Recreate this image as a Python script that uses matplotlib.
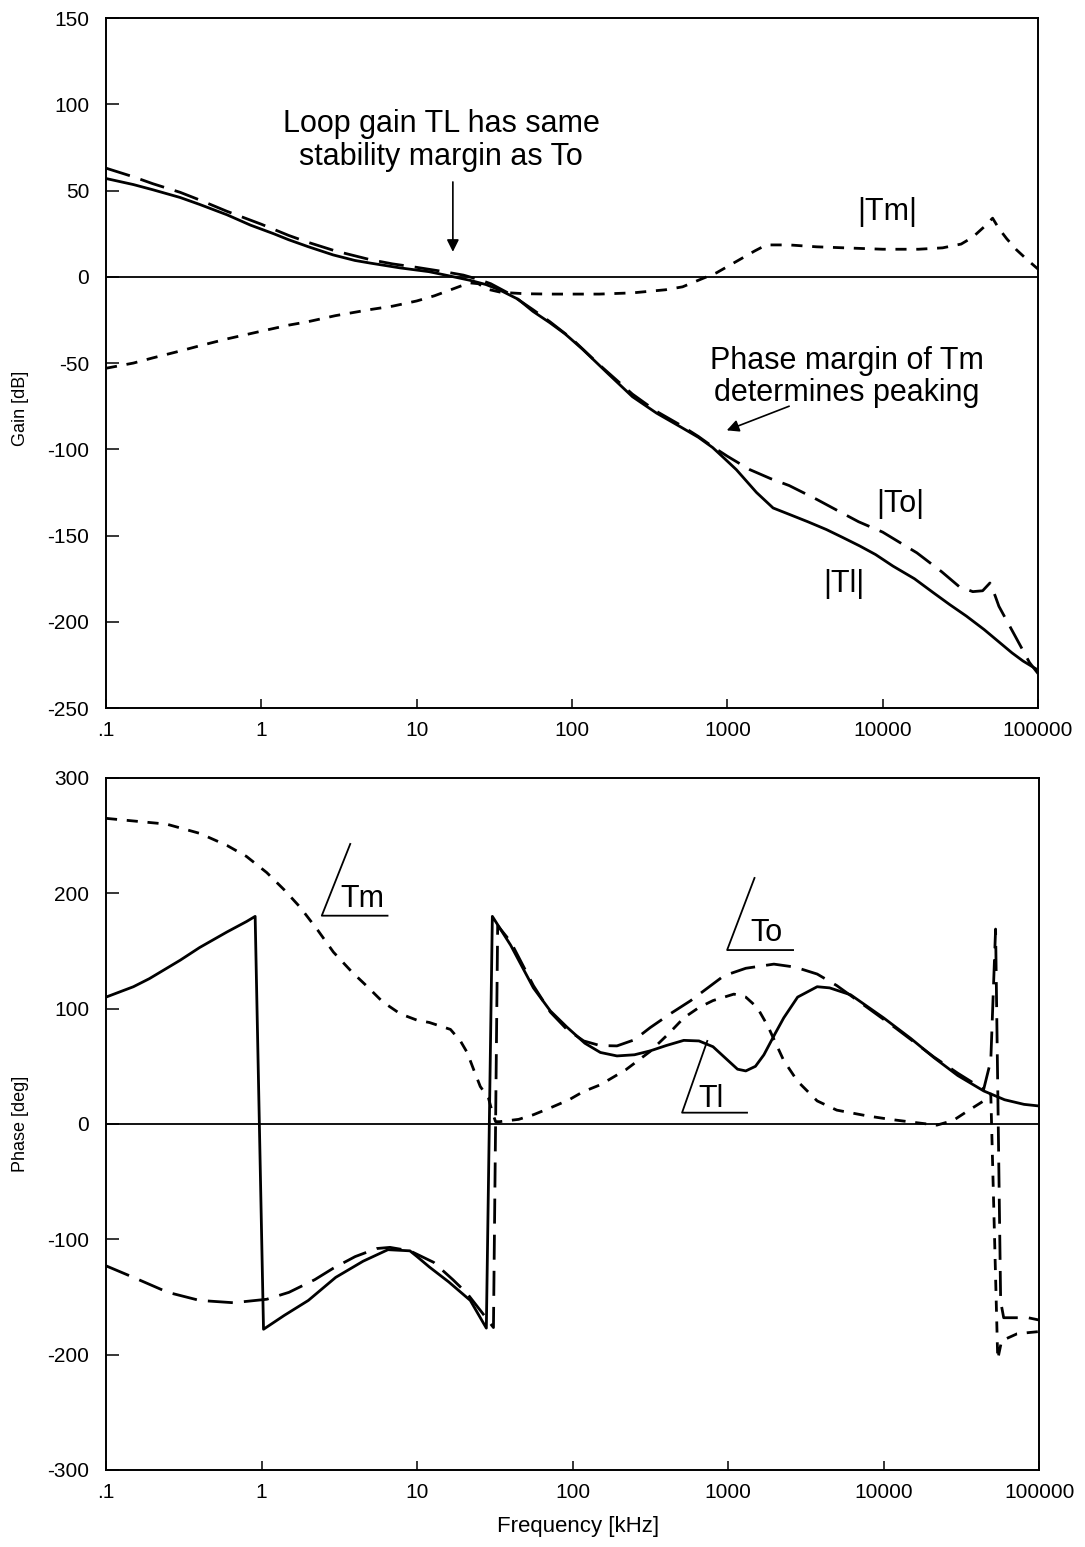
import numpy as np
import matplotlib
matplotlib.use("Agg")
from matplotlib import pyplot as plt

plt.rcParams['font.family'] = ['Liberation Sans', 'DejaVu Sans']
plt.rcParams['axes.unicode_minus'] = False

# ---- gain data (frequency in kHz, gain in dB) ----
f_tl_gain = [0.1, 0.15, 0.2, 0.3, 0.4, 0.6, 0.85, 1.2, 1.5, 2, 2.9, 4, 5, 7.8, 12, 16.3, 22, 28,
             34, 45, 56, 72, 90, 117, 170, 245, 350, 500, 650, 805, 950, 1143, 1540, 1970, 2520,
             3300, 4340, 5500, 7110, 9000, 11650, 16000, 21100, 27000, 34600, 45000, 56600,
             68000, 80000, 90000, 100000]
tl_gain = [57, 53.5, 50.5, 46, 42, 36, 30, 25, 21.5, 17.5, 12.7, 9.5, 8, 5.2, 3, 0.5, -2, -4.5,
           -7.5, -13, -20, -26.6, -33, -42, -56, -69.5, -79, -87, -93, -99, -105, -111.8, -125,
           -134, -137.8, -142, -146.5, -151, -156, -161, -167.7, -175, -183, -190, -196.7,
           -204.5, -212, -218, -222.7, -225.5, -228]

f_to_gain = [0.1, 0.15, 0.2, 0.3, 0.4, 0.6, 1, 1.5, 2, 3, 5, 7, 10, 15, 20, 25, 30, 40, 56, 72,
             100, 150, 245, 350, 500, 650, 805, 1000, 1390, 1900, 2500, 3760, 5000, 7000, 10000,
             16600, 24000, 31000, 38000, 44000, 49000, 53000, 56000, 70000, 88000, 100000]
to_gain = [63, 58, 54, 49, 44.6, 38, 30.5, 24, 20, 15, 10, 7.5, 5.5, 3, 1, -1.5, -4, -10, -19,
           -26, -36, -51, -68, -78, -86, -92.5, -98.5, -104, -111.7, -117, -121, -129, -135,
           -142, -148, -160, -171, -179.5, -182.5, -182, -177.5, -185, -191, -207, -223.5, -230]

f_tm_gain = [0.1, 0.15, 0.2, 0.3, 0.4, 0.6, 1, 1.5, 2, 3, 5, 7, 10, 13, 16, 19, 22, 25, 28, 35,
             50, 72, 150, 245, 400, 515, 650, 850, 1200, 1500, 1780, 2500, 3760, 10000, 17000,
             24300, 32000, 38000, 45000, 51000, 56000, 63000, 72800, 85000, 100000]
tm_gain = [-53, -50, -47, -43, -40, -36, -31.5, -28, -26, -22.5, -19, -17, -14, -11, -8, -5.5,
           -3.5, -4, -7, -9, -9.8, -10, -10, -9.3, -7.5, -5.8, -2, 2.3, 10, 15, 18.5, 18.5, 17.4,
           16, 16, 16.8, 19, 23, 29, 34, 28, 22, 15.6, 10, 4.5]

# ---- phase data (frequency in kHz, phase in deg) ----
f_tl_ph = [0.1, 0.15, 0.19, 0.3, 0.4, 0.6, 0.8, 0.91, 1.03, 1.4, 2, 3, 4.5, 6.5, 9, 10, 12, 16, 22,
           27.9, 30.5, 40, 56, 72, 92, 120, 151, 193, 250, 316, 400, 519, 650, 800, 1000, 1150,
           1300, 1500, 1700, 2000, 2280, 2800, 3740, 4500, 6140, 10000, 15000, 21100, 30000,
           44100, 60000, 80000, 100000]
tl_ph = [110, 119, 126, 142, 153, 166.5, 175.5, 180, -178, -166, -153, -133, -119, -109, -110,
         -115, -124, -137, -153, -177, 180, 155, 118, 98, 84, 70, 62, 59, 60, 63.4, 68, 72.5, 72,
         67, 55, 47.5, 46, 50, 60, 78, 92, 110, 119, 118, 112, 92, 74, 57.5, 42, 28.6, 21, 17,
         15.6]

f_to_ph = [0.1, 0.15, 0.25, 0.4, 0.66, 1.08, 1.5, 2.2, 2.9, 4, 5.5, 6.7, 9, 12.8, 17, 21, 26, 31,
           33, 40, 56, 72, 92, 118, 150, 193, 250, 316, 430, 573, 740, 940, 1300, 1970, 2700,
           3740, 5000, 7850, 12000, 21100, 30000, 44000, 48900, 52500, 56600, 59200, 85000,
           100000]
to_ph = [-123, -133, -146, -153, -155, -152, -146, -135, -125, -115, -108, -107, -110, -120,
         -135, -147, -163, -176.5, 172, 158, 120, 97, 82, 72, 68, 67.7, 73, 83.6, 96, 106.8,
         118, 128.5, 135, 138.6, 136, 130, 120, 101, 83, 58, 44, 30, 55, 169, -154, -168,
         -168, -170]

f_tm_ph = [0.1, 0.245, 0.4, 0.6, 0.8, 1.08, 1.4, 1.77, 2.3, 2.9, 3.8, 4.8, 6, 7.8, 10, 12, 16.4,
           19, 21, 23, 25.5, 28.8, 30.5, 32, 34, 45, 56, 72, 95, 117, 151, 220, 316, 420, 519,
           650, 800, 1090, 1300, 1540, 1800, 2280, 2800, 3740, 5000, 7850, 11000, 16500, 22000,
           28000, 34500, 44000, 48900, 54200, 57400, 72000, 84000, 100000]
tm_ph = [265, 260, 252, 241.5, 232, 218, 203, 188, 168, 149, 132, 119, 106, 95.5, 90, 88, 82, 72,
         62, 48, 32.5, 22.5, 10, 2, 2, 4, 8, 14, 21, 28, 34, 47, 63, 79, 92, 101, 107, 112.6,
         110, 101, 85, 55, 37, 20, 12, 7, 4, 1, -1, 3, 11, 20, 26, -204, -188, -182, -181, -180]

xticks = [0.1, 1, 10, 100, 1000, 10000, 100000]
xticklabels = ['.1', '1', '10', '100', '1000', '10000', '100000']

solid = dict(color='k', lw=2.0, linestyle='-')
long_dash = dict(color='k', lw=2.0, linestyle=(0, (9, 4)))
short_dash = dict(color='k', lw=2.0, linestyle=(0, (4, 3.5)))
arrow = dict(arrowstyle='-|>', color='k', lw=1.2, mutation_scale=18, shrinkA=0, shrinkB=0)

fig = plt.figure(figsize=(10.85, 15.47), dpi=100)
ax1 = fig.add_axes([0.0977, 0.5423, 0.859, 0.446])
ax2 = fig.add_axes([0.0977, 0.0498, 0.860, 0.4473])

for ax in (ax1, ax2):
    ax.set_xscale('log')
    ax.set_xlim(0.1, 100000)
    ax.set_xticks(xticks)
    ax.set_xticklabels(xticklabels)
    ax.minorticks_off()
    ax.axhline(0, color='k', lw=1.3)
    for s in ax.spines.values():
        s.set_linewidth(1.4)
    ax.tick_params(axis='y', direction='in', length=9.4, width=1.1, pad=12, labelsize=15)
    ax.tick_params(axis='x', direction='in', length=6.5, width=1.1, pad=9.5, labelsize=15)

# ---- gain plot ----
ax1.plot(f_tm_gain, tm_gain, **short_dash)
ax1.plot(f_to_gain, to_gain, **long_dash)
ax1.plot(f_tl_gain, tl_gain, **solid)
ax1.set_ylim(-250, 150)
ax1.set_yticks(np.arange(-250, 151, 50))
ax1.set_ylabel('Gain [dB]', fontsize=13)
ax1.yaxis.set_label_coords(-0.083, 0.435)

ax1.text(14.4, 79, 'Loop gain TL has same\nstability margin as To', ha='center', va='center',
         fontsize=22, linespacing=1.15)
ax1.annotate('', xy=(17.1, 14.5), xytext=(17.1, 55), arrowprops=arrow)
ax1.text(5900, -58, 'Phase margin of Tm\ndetermines peaking', ha='center', va='center',
         fontsize=22, linespacing=1.1)
ax1.annotate('', xy=(991, -89), xytext=(2500, -75), arrowprops=arrow)
ax1.text(10700, 37.5, '|Tm|', ha='center', va='center', fontsize=22)
ax1.text(13060, -131.5, '|To|', ha='center', va='center', fontsize=22)
ax1.text(5610, -178, '|Tl|', ha='center', va='center', fontsize=22)

# ---- phase plot ----
ax2.plot(f_tm_ph, tm_ph, **short_dash)
ax2.plot(f_to_ph, to_ph, **long_dash)
ax2.plot(f_tl_ph, tl_ph, **solid)
ax2.set_ylim(-300, 300)
ax2.set_yticks(np.arange(-300, 301, 100))
ax2.set_ylabel('Phase [deg]', fontsize=13)
ax2.yaxis.set_label_coords(-0.083, 0.5)
ax2.set_xlabel('Frequency [kHz]', fontsize=16)
ax2.xaxis.set_label_coords(0.506, -0.066)

# angle-sign labels: slanted stroke + underline
angle_labels = [
    ('Tm', (3.72, 242.8), (2.44, 180.6), (6.46, 180.6), 4.48, 188.4),
    ('To', (1479, 213.3), (986, 150.8), (2618, 150.8), 1754, 158.9),
    ('Tl', (735, 72), (506, 9.8), (1324, 9.8), 781, 14.8),
]
for name, top, corner, end, tx, ty in angle_labels:
    ax2.plot([top[0], corner[0], end[0]], [top[1], corner[1], end[1]], color='k', lw=1.3)
    ax2.text(tx, ty, name, ha='center', va='baseline', fontsize=22)

fig.savefig('out.png', dpi=100)
